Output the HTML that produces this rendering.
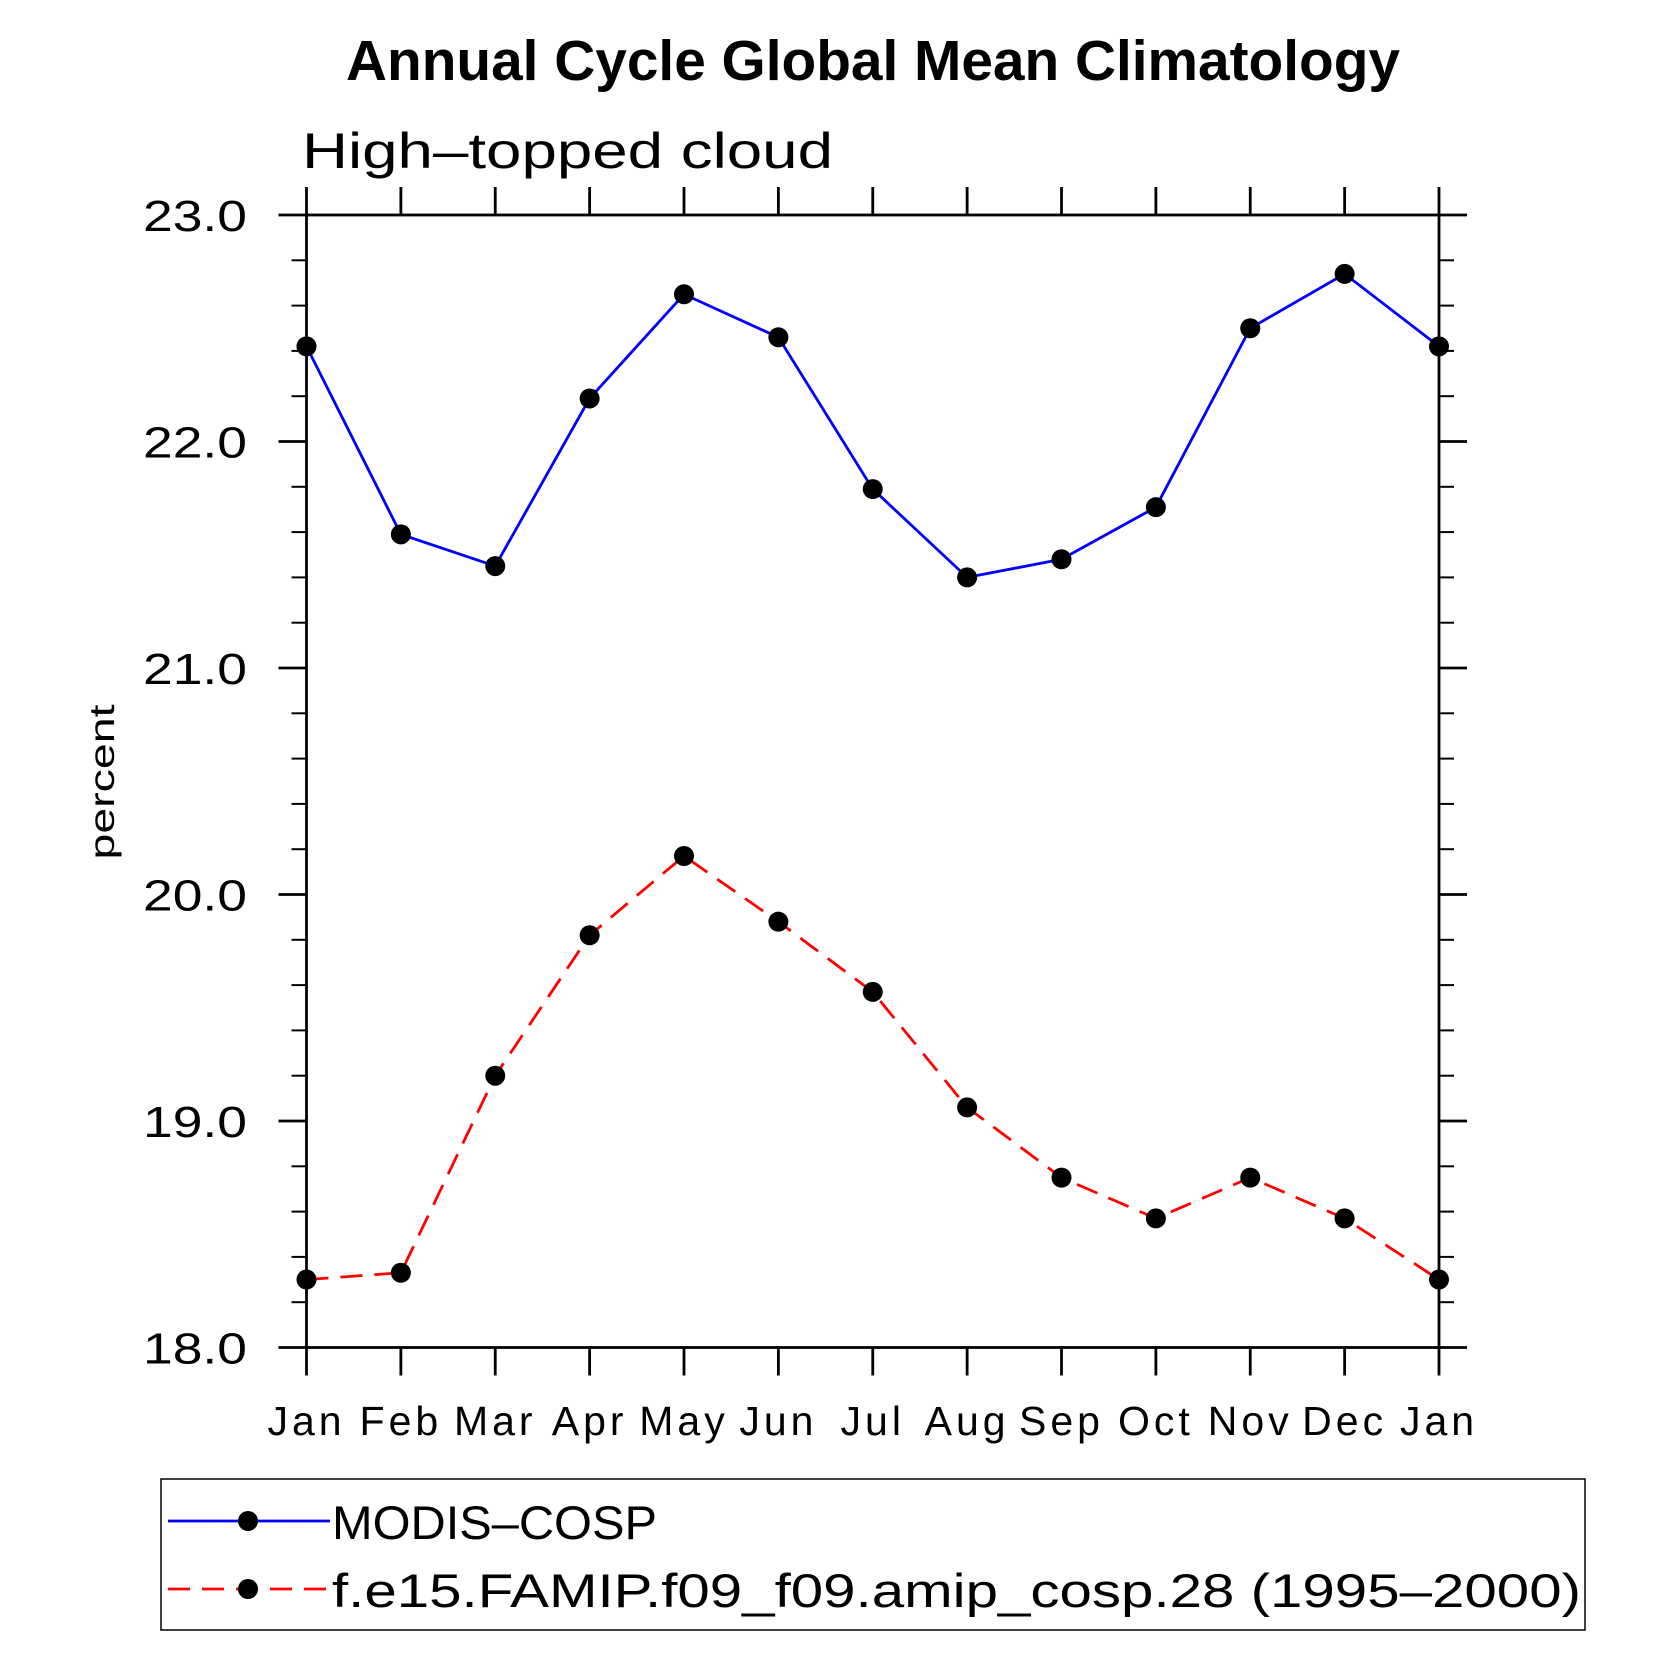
<!DOCTYPE html>
<html><head><meta charset="utf-8"><style>
html,body{margin:0;padding:0;background:#fff;}
svg{display:block;font-family:"Liberation Sans",sans-serif;}
</style></head><body>
<svg id="chart" width="1669" height="1669" viewBox="0 0 1669 1669" xmlns="http://www.w3.org/2000/svg">
<text x="346" y="80" font-size="57" font-weight="bold" textLength="1054" lengthAdjust="spacingAndGlyphs">Annual Cycle Global Mean Climatology</text>
<text x="302" y="168" font-size="50" textLength="531" lengthAdjust="spacingAndGlyphs">High–topped cloud</text>
<text transform="translate(114,782) rotate(-90)" text-anchor="middle" font-size="35" textLength="155" lengthAdjust="spacingAndGlyphs">percent</text>
<g id="axes"></g>
<g id="series"></g>
<g>
<rect x="161" y="1479" width="1424" height="151" fill="none" stroke="#000" stroke-width="1.5"/>
<g>
<line x1="168" y1="1521" x2="330" y2="1521" stroke="#0000ff" stroke-width="2.8"/>
<circle cx="248" cy="1521" r="10" fill="#000"/>
<text x="332" y="1539" font-size="47" textLength="325" lengthAdjust="spacingAndGlyphs">MODIS–COSP</text>
</g>
<g>
<line x1="168" y1="1589" x2="330" y2="1589" stroke="#ff0000" stroke-width="2.8" stroke-dasharray="22,12"/>
<circle cx="248" cy="1589" r="10" fill="#000"/>
<text x="332" y="1607" font-size="47" textLength="1249" lengthAdjust="spacingAndGlyphs">f.e15.FAMIP.f09_f09.amip_cosp.28 (1995–2000)</text>
</g>
</g>
</svg>
<script>
const months = ["Jan","Feb","Mar","Apr","May","Jun","Jul","Aug","Sep","Oct","Nov","Dec","Jan"];
const modisValues = [22.42,21.59,21.45,22.19,22.65,22.46,21.79,21.40,21.48,21.71,22.50,22.74,22.42];
const modelValues = [18.30,18.33,19.20,19.82,20.17,19.88,19.57,19.06,18.75,18.57,18.75,18.57,18.30];
const yTickValues = [18,19,20,21,22,23];
const yTickLabels = ["18.0","19.0","20.0","21.0","22.0","23.0"];

const NS = "http://www.w3.org/2000/svg";
const L = 306.5, R = 1439, T = 215, B = 1347.5;
const yMin = 18, yMax = 23;
function xs(i){ return L + (R - L) * i / (months.length - 1); }
function ys(v){ return B - (v - yMin) / (yMax - yMin) * (B - T); }
function mk(tag, attrs, parent){
  const e = document.createElementNS(NS, tag);
  for (const k in attrs) e.setAttribute(k, attrs[k]);
  parent.appendChild(e);
  return e;
}
const axes = document.getElementById('axes');
const frame = mk('rect', {x:L, y:T, width:R-L, height:B-T, fill:'none', stroke:'#000', 'stroke-width':2.8}, axes);


months.forEach((m, i) => {
  const x = xs(i);
  mk('line', {x1:x, y1:T, x2:x, y2:T-28, stroke:'#000', 'stroke-width':2.8}, axes);
  mk('line', {x1:x, y1:B, x2:x, y2:B+28, stroke:'#000', 'stroke-width':2.8}, axes);
  const t = mk('text', {x:x, y:1435, 'text-anchor':'middle', 'font-size':41, 'letter-spacing':4}, axes);
  t.textContent = m;
  
  
});
yTickValues.forEach((v, i) => {
  const y = ys(v);
  mk('line', {x1:L, y1:y, x2:L-28, y2:y, stroke:'#000', 'stroke-width':2.8}, axes);
  mk('line', {x1:R, y1:y, x2:R+28, y2:y, stroke:'#000', 'stroke-width':2.8}, axes);
  const t = mk('text', {x:143, y:y+16, 'font-size':44, textLength:104, lengthAdjust:'spacingAndGlyphs'}, axes);
  t.textContent = yTickLabels[i];
  
  
  if (i < yTickValues.length - 1) {
    for (let k = 1; k < 5; k++) {
      const yy = ys(v + k * 0.2);
      mk('line', {x1:L, y1:yy, x2:L-15, y2:yy, stroke:'#000', 'stroke-width':2}, axes);
      mk('line', {x1:R, y1:yy, x2:R+15, y2:yy, stroke:'#000', 'stroke-width':2}, axes);
    }
  }
});
const series = document.getElementById('series');
function drawSeries(vals, color, dash, name){
  const g = mk('g', {}, series);
  
  
  const pts = vals.map((v, i) => xs(i) + ',' + ys(v)).join(' ');
  const attrs = {points:pts, fill:'none', stroke:color, 'stroke-width':2.8};
  if (dash) attrs['stroke-dasharray'] = dash;
  mk('polyline', attrs, g);
  vals.forEach((v, i) => {
    const c = mk('circle', {cx:xs(i), cy:ys(v), r:10, fill:'#000'}, g);
    
    
  });
}
drawSeries(modisValues, '#0000ff', null, 'modis-cosp-series');
drawSeries(modelValues, '#ff0000', '22,12', 'model-series');
</script>
</body></html>
